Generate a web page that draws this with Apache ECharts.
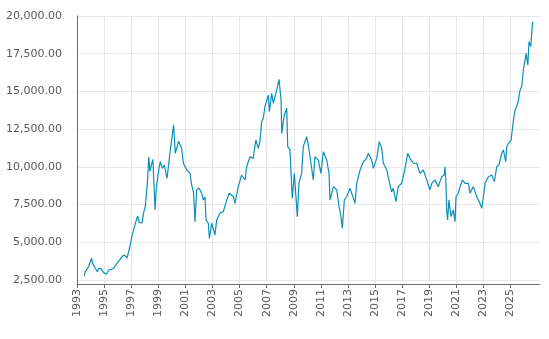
<!DOCTYPE html>
<html>
<head>
<meta charset="utf-8">
<script src="https://cdn.jsdelivr.net/npm/echarts@6/dist/echarts.min.js"></script>
<style>
  html, body { margin: 0; padding: 0; background: #fff; }
  #chart { width: 549px; height: 339px; }
</style>
</head>
<body>
<div id="chart"></div>
<script>
// decimal years
const dates = [
  1993.54, 1993.61, 1993.86, 1993.98, 1994.08, 1994.15, 1994.23, 1994.35, 1994.5, 1994.6,
  1994.77, 1994.97, 1995.16, 1995.34, 1995.5, 1995.7, 1995.95, 1996.15, 1996.32, 1996.49,
  1996.7, 1996.93, 1997.06, 1997.2, 1997.38, 1997.48, 1997.6, 1997.8, 1997.9, 1998.04,
  1998.2, 1998.3, 1998.38, 1998.46, 1998.6, 1998.7, 1998.76, 1998.85, 1999.03, 1999.15,
  1999.3, 1999.45, 1999.64, 1999.89, 2000.13, 2000.25, 2000.36, 2000.5, 2000.72, 2000.85,
  2001.1, 2001.34, 2001.46, 2001.6, 2001.71, 2001.83, 2002.0, 2002.2, 2002.32, 2002.45,
  2002.52, 2002.69, 2002.77, 2002.94, 2003.18, 2003.31, 2003.55, 2003.8, 2004.05, 2004.24,
  2004.54, 2004.66, 2004.9, 2005.15, 2005.4, 2005.52, 2005.77, 2006.0, 2006.2, 2006.38,
  2006.5, 2006.63, 2006.75, 2006.87, 2007.12, 2007.2, 2007.37, 2007.49, 2007.74, 2007.91,
  2008.06, 2008.11, 2008.3, 2008.48, 2008.55, 2008.72, 2008.84, 2008.89, 2009.04, 2009.16,
  2009.26, 2009.38, 2009.58, 2009.7, 2009.95, 2010.07, 2010.2, 2010.32, 2010.44, 2010.56,
  2010.81, 2011.0, 2011.18, 2011.43, 2011.6, 2011.67, 2011.92, 2012.17, 2012.34, 2012.48,
  2012.58, 2012.73, 2012.9, 2013.15, 2013.32, 2013.52, 2013.64, 2013.89, 2014.13, 2014.38,
  2014.5, 2014.75, 2014.87, 2015.12, 2015.31, 2015.49, 2015.61, 2015.86, 2016.1, 2016.22,
  2016.34, 2016.54, 2016.71, 2016.96, 2017.13, 2017.28, 2017.4, 2017.58, 2017.82, 2018.07,
  2018.31, 2018.56, 2018.81, 2019.05, 2019.18, 2019.42, 2019.67, 2019.91, 2020.1, 2020.16,
  2020.22, 2020.28, 2020.35, 2020.45, 2020.6, 2020.77, 2020.9, 2020.97, 2021.14, 2021.27,
  2021.44, 2021.64, 2021.89, 2022.0, 2022.25, 2022.38, 2022.5, 2022.74, 2022.87, 2022.99,
  2023.12, 2023.36, 2023.61, 2023.8, 2023.98, 2024.14, 2024.34, 2024.47, 2024.64, 2024.72,
  2024.84, 2025.04, 2025.21, 2025.33, 2025.53, 2025.7, 2025.82, 2025.94, 2026.06, 2026.14,
  2026.27, 2026.36, 2026.49, 2026.61, 2026.68
];
const values = [
  2765, 3050, 3380, 3710, 3940, 3600, 3490, 3275, 3050, 3250,
  3275, 2990, 2880, 3160, 3200, 3275, 3600, 3830, 4045, 4160,
  3960, 4820, 5420, 5300, 6480, 6740, 6300, 6280, 6900, 7360,
  9020, 10670, 9700, 10010, 10500, 8470, 7140, 8580, 9790, 10340,
  9900, 10120, 9240, 11120, 12780, 10900, 10900, 11700, 11230, 10240,
  9790, 9570, 8800, 8300, 6370, 8470, 8600, 8250, 7800, 8020,
  6480, 6260, 5260, 6260, 5480, 6480, 6920, 7030, 7800, 8250,
  8020, 7580, 8690, 9460, 9130, 10010, 10670, 10560, 11780, 11230,
  11670, 12990, 13220, 13990, 14760, 13660, 14880, 14210, 15100, 15800,
  14430, 12220, 13440, 13880, 11340, 11120, 8690, 7920, 9570, 8020,
  6700, 8910, 9570, 11340, 12000, 11450, 10670, 10670, 9130, 10670,
  10450, 9570, 11010, 10450, 9570, 7800, 8690, 8470, 7360, 6700,
  5930, 7800, 8020, 8580, 8130, 7580, 8910, 9790, 10340, 10560,
  10900, 10450, 9900, 10560, 11670, 11230, 10240, 9790, 8800, 8350,
  8580, 7690, 8690, 8910, 9570, 10240, 10900, 10560, 10240, 10240,
  9570, 9790, 9130, 8470, 8910, 9130, 8690, 9350, 9460, 10010,
  9130, 7140, 6480, 7800, 6700, 7140, 6370, 8020, 8250, 8690,
  9130, 8910, 8910, 8250, 8690, 8360, 8020, 7580, 7250, 8020,
  8910, 9350, 9460, 9020, 10010, 10120, 10900, 11120, 10340, 11340,
  11560, 11780, 13110, 13770, 14210, 15100, 15320, 16420, 17080, 17530,
  16750, 18300, 17970, 19510, 19620
];

const startYear = 1993;
// tick labels
const yearTicks = [1993, 1995, 1997, 1999, 2001, 2003, 2005, 2007, 2009, 2011, 2013,
  2015, 2017, 2019, 2021, 2023, 2025];
const valueTicks = [2500, 5000, 7500, 10000, 12500, 15000, 17500, 20000];

const yMin = 2235;
const yMax = 20000;
const xMax = 34.17; // years after 1993 at the right end of the axis

const chart = echarts.init(document.getElementById('chart'));
const gridColor = '#e8e8e8';
const axisColor = '#6e6e6e';
const labelColor = '#595959';
const xTickValues = yearTicks.map(y => y - startYear);

const option = {
  animation: false,
  grid: { left: 77, right: 9, top: 16, bottom: 55 },
  xAxis: {
    type: 'value',
    min: 0,
    max: xMax,
    axisLine: { lineStyle: { color: axisColor, width: 1 } },
    axisTick: { show: true, length: 4, customValues: xTickValues, lineStyle: { color: axisColor } },
    axisLabel: {
      rotate: 90,
      margin: 5,
      color: labelColor,
      fontFamily: 'DejaVu Sans',
      fontSize: 11,
      customValues: xTickValues,
      formatter: v => String(startYear + Math.round(v))
    },
    splitLine: { show: true, lineStyle: { color: gridColor, width: 1 } }
  },
  yAxis: {
    type: 'value',
    min: yMin,
    max: yMax,
    axisLine: { show: true, lineStyle: { color: axisColor, width: 1 } },
    axisTick: { show: false, customValues: valueTicks },
    axisLabel: {
      margin: 15,
      color: labelColor,
      fontFamily: 'DejaVu Sans',
      fontSize: 11,
      customValues: valueTicks,
      formatter: v => v.toLocaleString('en-US', { minimumFractionDigits: 2, maximumFractionDigits: 2 })
    },
    splitLine: { lineStyle: { color: gridColor, width: 1 } }
  },
  series: [{
    type: 'line',
    data: dates.map((d, i) => [d - startYear, values[i]]),
    showSymbol: false,
    lineStyle: { color: '#0b8fba', width: 1.2 },
    itemStyle: { color: '#0b8fba' }
  }]
};
chart.setOption(option);
</script>
</body>
</html>
